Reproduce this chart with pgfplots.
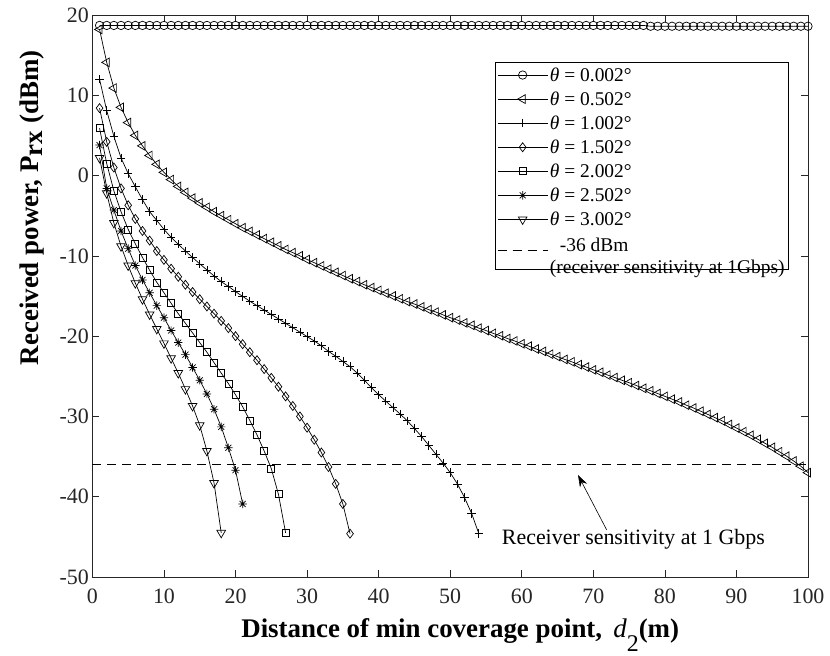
\documentclass[border=0pt]{standalone}
\usepackage{fontspec}
\setmainfont{Liberation Serif}
\usepackage{pgfplots}
\pgfplotsset{compat=1.18}
\usetikzlibrary{arrows.meta}

% eight-armed star marker (plus and cross combined)
\pgfdeclareplotmark{star8}{%
  \pgfpathmoveto{\pgfqpoint{-\pgfplotmarksize}{0pt}}%
  \pgfpathlineto{\pgfqpoint{\pgfplotmarksize}{0pt}}%
  \pgfpathmoveto{\pgfqpoint{0pt}{-\pgfplotmarksize}}%
  \pgfpathlineto{\pgfqpoint{0pt}{\pgfplotmarksize}}%
  \pgfpathmoveto{\pgfqpoint{-.707\pgfplotmarksize}{-.707\pgfplotmarksize}}%
  \pgfpathlineto{\pgfqpoint{.707\pgfplotmarksize}{.707\pgfplotmarksize}}%
  \pgfpathmoveto{\pgfqpoint{-.707\pgfplotmarksize}{.707\pgfplotmarksize}}%
  \pgfpathlineto{\pgfqpoint{.707\pgfplotmarksize}{-.707\pgfplotmarksize}}%
  \pgfusepathqstroke}

\newcommand{\thetaeq}[1]{{\itshape θ} = #1°}

\begin{document}
\begin{tikzpicture}
\useasboundingbox (-92.4bp,-79bp) rectangle (737.6bp,577bp);
\begin{axis}[
  scale only axis, width=715.6bp, height=562bp,
  xmin=0, xmax=100, ymin=-50, ymax=20,
  xtick={0,10,...,100}, ytick={-50,-40,...,20},
  tick align=inside, major tick length=7bp,
  axis line style={black!85, line width=0.6bp},
  every tick/.style={black!85, line width=0.6bp},
  /pgf/number format/assume math mode=true,
  tick label style={font=\fontsize{22}{22}\selectfont, text=black!85},
  xticklabel style={yshift=-8bp},
  clip mode=individual,
  xlabel={Distance of min coverage point,\, {\mdseries\itshape d}\raisebox{-0.5em}{\mdseries\fontsize{24}{24}\selectfont 2}(m)},
  ylabel={Received power, P$_{\textbf{rx}}$ (dBm)},
  label style={font=\bfseries\fontsize{27}{27}\selectfont},
  xlabel style={at={(axis description cs:0.514,-0.1085)}, anchor=base},
  ylabel style={at={(axis description cs:-0.084,0.657)}, anchor=center},
  legend style={at={(0.5626,0.916)}, anchor=north west,
    font=\fontsize{19.5}{22}\selectfont, draw=black, line width=0.6bp,
    fill=white, inner xsep=2bp, inner ysep=3bp, row sep=5bp},
  legend cell align=left,
  legend image code/.code={%
    \draw[#1, mark=none] (0bp,0bp) -- (50bp,0bp);
    \path[#1, only marks] plot coordinates {(25bp,0bp)};},
  every axis plot/.append style={black, line width=0.7bp,
    mark options={solid, line width=0.7bp}},
]

% theta = 0.002 deg
\addplot[mark=o, mark size=4.2bp] coordinates {
(1,18.7)(2,18.7)(3,18.7)(4,18.7)(5,18.7)(6,18.7)(7,18.7)(8,18.7)(9,18.7)(10,18.7)
(11,18.7)(12,18.7)(13,18.7)(14,18.7)(15,18.7)(16,18.7)(17,18.7)(18,18.7)(19,18.7)(20,18.7)
(21,18.7)(22,18.7)(23,18.7)(24,18.7)(25,18.7)(26,18.7)(27,18.7)(28,18.7)(29,18.7)(30,18.7)
(31,18.7)(32,18.7)(33,18.7)(34,18.7)(35,18.7)(36,18.7)(37,18.7)(38,18.7)(39,18.7)(40,18.7)
(41,18.7)(42,18.7)(43,18.7)(44,18.7)(45,18.7)(46,18.7)(47,18.7)(48,18.7)(49,18.7)(50,18.7)
(51,18.7)(52,18.7)(53,18.7)(54,18.7)(55,18.7)(56,18.7)(57,18.7)(58,18.7)(59,18.7)(60,18.7)
(61,18.7)(62,18.7)(63,18.7)(64,18.7)(65,18.7)(66,18.7)(67,18.7)(68,18.7)(69,18.7)(70,18.7)
(71,18.7)(72,18.7)(73,18.7)(74,18.7)(75,18.7)(76,18.7)(77,18.7)(78,18.6)(79,18.6)(80,18.6)
(81,18.6)(82,18.6)(83,18.6)(84,18.6)(85,18.6)(86,18.6)(87,18.6)(88,18.6)(89,18.6)(90,18.6)
(91,18.6)(92,18.6)(93,18.6)(94,18.6)(95,18.6)(96,18.6)(97,18.6)(98,18.6)(99,18.6)(100,18.6)
};
\addlegendentry{\thetaeq{0.002}}

% theta = 0.502 deg
\addplot[mark=triangle, mark size=5bp, mark options={rotate=90}] coordinates {
(1,18.2)(2,14.1)(3,10.9)(4,8.5)(5,6.6)(6,5.0)(7,3.7)(8,2.5)(9,1.4)(10,0.4)
(11,-0.5)(12,-1.35)(13,-2.1)(14,-2.8)(15,-3.4)(16,-3.95)(17,-4.5)(18,-5.0)(19,-5.5)(20,-6.0)
(21,-6.5)(22,-6.95)(23,-7.4)(24,-7.85)(25,-8.3)(26,-8.75)(27,-9.2)(28,-9.6)(29,-10.0)(30,-10.45)
(31,-10.85)(32,-11.25)(33,-11.65)(34,-12.05)(35,-12.45)(36,-12.85)(37,-13.2)(38,-13.6)(39,-13.95)(40,-14.3)
(41,-14.65)(42,-15.0)(43,-15.35)(44,-15.7)(45,-16.0)(46,-16.35)(47,-16.7)(48,-17.0)(49,-17.35)(50,-17.7)
(51,-18.0)(52,-18.35)(53,-18.65)(54,-19.0)(55,-19.3)(56,-19.65)(57,-19.95)(58,-20.3)(59,-20.6)(60,-20.95)
(61,-21.25)(62,-21.6)(63,-21.9)(64,-22.25)(65,-22.55)(66,-22.9)(67,-23.2)(68,-23.55)(69,-23.85)(70,-24.2)
(71,-24.5)(72,-24.85)(73,-25.15)(74,-25.5)(75,-25.8)(76,-26.15)(77,-26.5)(78,-26.8)(79,-27.15)(80,-27.5)
(81,-27.85)(82,-28.2)(83,-28.6)(84,-28.95)(85,-29.35)(86,-29.75)(87,-30.15)(88,-30.55)(89,-31.0)(90,-31.45)
(91,-31.9)(92,-32.35)(93,-32.85)(94,-33.35)(95,-33.85)(96,-34.4)(97,-34.95)(98,-35.55)(99,-36.2)(100,-37.0)
};
\addlegendentry{\thetaeq{0.502}}

% theta = 1.002 deg
\addplot[mark=+, mark size=4.2bp] coordinates {
(1,12.0)(2,8.1)(3,4.9)(4,2.2)(5,0.25)(6,-1.4)(7,-3.0)(8,-4.5)(9,-5.6)(10,-6.7)
(11,-7.7)(12,-8.55)(13,-9.4)(14,-10.2)(15,-11.0)(16,-11.75)(17,-12.5)(18,-13.2)(19,-13.8)(20,-14.45)
(21,-15.05)(22,-15.65)(23,-16.2)(24,-16.75)(25,-17.3)(26,-17.85)(27,-18.4)(28,-18.95)(29,-19.5)(30,-20.05)
(31,-20.6)(32,-21.2)(33,-21.9)(34,-22.5)(35,-23.15)(36,-23.8)(37,-24.6)(38,-25.5)(39,-26.4)(40,-27.3)
(41,-28.1)(42,-28.9)(43,-29.7)(44,-30.55)(45,-31.5)(46,-32.5)(47,-33.6)(48,-34.7)(49,-35.8)(50,-37.0)
(51,-38.4)(52,-40.1)(53,-42.1)(54,-44.6)
};
\addlegendentry{\thetaeq{1.002}}

% theta = 1.502 deg
\addplot[mark=diamond, mark size=4.5bp] coordinates {
(1,8.4)(2,4.2)(3,1.0)(4,-1.6)(5,-3.7)(6,-5.4)(7,-6.9)(8,-8.1)(9,-9.4)(10,-10.5)
(11,-11.6)(12,-12.6)(13,-13.6)(14,-14.5)(15,-15.4)(16,-16.3)(17,-17.2)(18,-18.1)(19,-19.0)(20,-20.0)
(21,-21.0)(22,-22.0)(23,-23.0)(24,-24.1)(25,-25.2)(26,-26.3)(27,-27.5)(28,-28.7)(29,-30.0)(30,-31.4)
(31,-32.9)(32,-34.5)(33,-36.3)(34,-38.4)(35,-40.9)(36,-44.6)
};
\addlegendentry{\thetaeq{1.502}}

% theta = 2.002 deg
\addplot[mark=square, mark size=3.5bp] coordinates {
(1,5.9)(2,1.5)(3,-1.9)(4,-4.5)(5,-6.7)(6,-8.5)(7,-10.2)(8,-11.8)(9,-13.3)(10,-14.6)
(11,-15.9)(12,-17.2)(13,-18.4)(14,-19.6)(15,-20.8)(16,-22.0)(17,-23.3)(18,-24.6)(19,-25.9)(20,-27.3)
(21,-28.8)(22,-30.5)(23,-32.3)(24,-34.3)(25,-36.5)(26,-39.7)(27,-44.5)
};
\addlegendentry{\thetaeq{2.002}}

% theta = 2.502 deg
\addplot[mark=star8, mark size=4.2bp] coordinates {
(1,3.8)(2,-1.6)(3,-4.3)(4,-6.9)(5,-9.1)(6,-11.2)(7,-13.0)(8,-14.6)(9,-16.2)(10,-17.7)
(11,-19.3)(12,-20.8)(13,-22.3)(14,-23.9)(15,-25.5)(16,-27.2)(17,-29.1)(18,-31.3)(19,-33.9)(20,-36.7)
(21,-40.9)
};
\addlegendentry{\thetaeq{2.502}}

% theta = 3.002 deg
\addplot[mark=triangle, mark size=5bp, mark options={rotate=180}] coordinates {
(1,2.2)(2,-2.2)(3,-5.9)(4,-8.8)(5,-11.2)(6,-13.4)(7,-15.4)(8,-17.3)(9,-19.1)(10,-20.9)
(11,-22.75)(12,-24.6)(13,-26.6)(14,-28.7)(15,-31.1)(16,-34.3)(17,-38.3)(18,-44.5)
};
\addlegendentry{\thetaeq{3.002}}

% receiver sensitivity threshold
\addplot[dash pattern=on 9bp off 6bp, line width=0.6bp] coordinates {(0,-36)(100,-36)};
\addlegendentry{\begin{tabular}{@{}l@{}}\hspace{10bp}-36 dBm\\(receiver sensitivity at 1Gbps)\end{tabular}}

\draw[line width=0.6bp, -{Stealth[length=12bp, width=8bp]}] (axis cs:71.87,-44.14) -- (axis cs:67.86,-37.29);
\node[anchor=base west, inner sep=0pt, font=\fontsize{22}{22}\selectfont] at (axis cs:57.2,-46.0) {Receiver sensitivity at 1 Gbps};
\end{axis}
\end{tikzpicture}
\end{document}
